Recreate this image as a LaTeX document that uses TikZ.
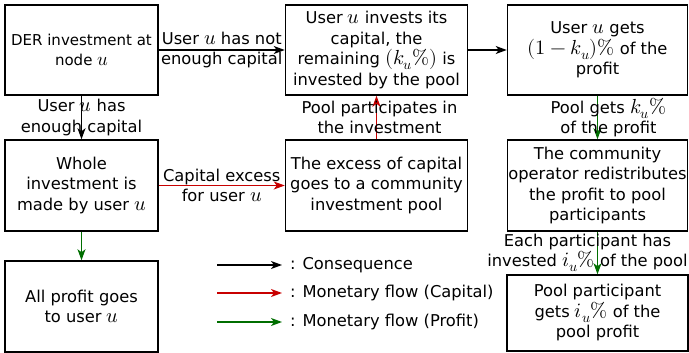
\documentclass[tikz,border=0pt]{standalone}
\usepackage{fontspec}
\usepackage{unicode-math}
\setmainfont{DejaVu Sans}
\setmathfont{Latin Modern Math}[Scale=1.25]
\usetikzlibrary{arrows.meta}
\definecolor{cred}{RGB}{200,0,0}
\definecolor{cgreen}{RGB}{0,110,0}
\begin{document}
\begin{tikzpicture}[x=1pt,y=-1pt,
  txt/.style={font=\fontsize{16.3}{20.5}\selectfont},
  box/.style={txt, draw, line width=1.5pt, align=center, inner sep=0pt},
  lbl/.style={txt, align=center, inner sep=0pt, text=black},
  arr/.style={line width=1.2pt, -{Stealth[length=11pt,width=8pt,inset=3pt]}},
  capflow/.style={arr, draw=cred, fill=cred},
  proflow/.style={arr, draw=cgreen, fill=cgreen}]
\useasboundingbox (0,0) rectangle (689,353);
% boxes
\node[box, font=\fontsize{15}{20.5}\selectfont, minimum width=153pt, minimum height=90pt] (A) at (81.5,50) {DER investment at\\node $u$};
\node[box, minimum width=182pt, minimum height=90pt] (B) at (376.5,50) {User $u$ invests its\\capital, the\\remaining $(k_u\%)$ is\\invested by the pool};
\node[box, minimum width=180pt, minimum height=90pt] (C) at (597.5,50) {User $u$ gets\\$(1-k_u)\%$ of the\\profit};
\node[box, minimum width=153pt, minimum height=91pt] (D) at (81.5,185.5) {Whole\\investment is\\made by user $u$};
\node[box, minimum width=182pt, minimum height=91pt] (E) at (376.5,185.5) {The excess of capital\\goes to a community\\investment pool};
\node[box, minimum width=180pt, minimum height=91pt] (F) at (597.5,185.5) {The community\\operator redistributes\\the profit to pool\\participants};
\node[box, minimum width=153pt, minimum height=91pt] (G) at (81.5,306.5) {All profit goes\\to user $u$};
\node[box, minimum width=181pt, minimum height=76pt] (H) at (597.5,313) {Pool participant\\gets $i_u\%$ of the\\pool profit};
% connectors
\draw[arr] (A.east) -- (B.west) node[midway, lbl] {User $u$ has not\\enough capital};
\draw[arr] (B.east) -- (C.west);
\draw[arr] (A.south) -- (D.north) node[midway, lbl] {User $u$ has\\enough capital};
\draw[capflow] (D.east) -- (E.west) node[midway, lbl] {Capital excess\\for user $u$};
\draw[capflow] (E.north) -- (B.south) node[midway, lbl, xshift=3pt] {Pool participates in\\the investment};
\draw[proflow] (C.south) -- (F.north) node[midway, lbl, xshift=11pt] {Pool gets $k_u\%$\\of the profit};
\draw[proflow] (D.south) -- (G.north);
\draw[proflow] (F.south) -- (H.north) node[midway, lbl, xshift=-10pt] {Each participant has\\invested $i_u\%$ of the pool};
% legend
\coordinate (L1a) at (217,265); \coordinate (L1b) at (282,265);
\coordinate (L2a) at (217,293); \coordinate (L2b) at (282,293);
\coordinate (L3a) at (217,322); \coordinate (L3b) at (282,322);
\draw[arr] (L1a) -- (L1b);
\draw[capflow] (L2a) -- (L2b);
\draw[proflow] (L3a) -- (L3b);
\node[lbl, anchor=west] (T1) at (290,265) {: Consequence};
\node[lbl, anchor=west] (T2) at (290,293) {: Monetary flow (Capital)};
\node[lbl, anchor=west] (T3) at (290,322) {: Monetary flow (Profit)};
\end{tikzpicture}
\end{document}
